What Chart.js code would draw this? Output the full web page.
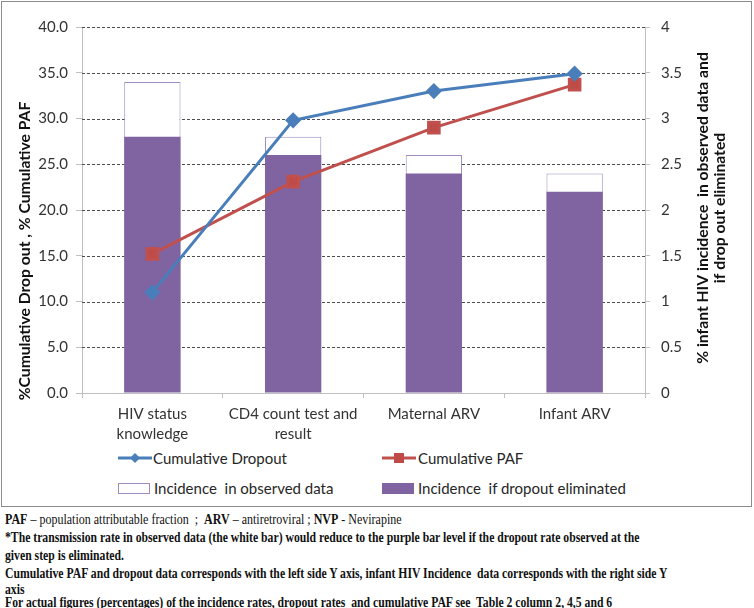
<!DOCTYPE html>
<html>
<head>
<meta charset="utf-8">
<script src="https://cdn.jsdelivr.net/npm/chart.js@4.4.1/dist/chart.umd.min.js"></script>
<style>
  html, body { margin: 0; padding: 0; background: #fff; }
  body { width: 754px; height: 608px; position: relative; overflow: hidden; font-family: Lato, "Open Sans", sans-serif; }
  #box { position: absolute; left: 1px; top: 1px; width: 749px; height: 504px; border: 1px solid #8c8c8c; }
  #c { position: absolute; left: 0; top: 0; }
  .lg { position: absolute; font-size: 15px; color: #262626; line-height: 18px; white-space: nowrap; }
  .sw { position: absolute; }
  .fn { position: absolute; left: 5px; font-family: "Liberation Serif", serif; font-size: 15px; line-height: 16px; color: #111; white-space: nowrap; transform-origin: 0 50%; transform: scaleX(0.78); }
  .fn.l1 { transform: scaleX(0.8); }
  .fn b { font-weight: bold; }
</style>
</head>
<body>
<div id="box"></div>
<canvas id="c" width="754" height="445"></canvas>

<svg class="sw" style="left:118px;top:452px" width="34" height="12"><line x1="0" y1="6" x2="34" y2="6" stroke="#4A7EBB" stroke-width="3"/><polygon points="17,1 22,6 17,11 12,6" fill="#4A7EBB"/></svg>
<div class="lg" style="left:153px;top:449px">Cumulative Dropout</div>
<svg class="sw" style="left:382px;top:452px" width="34" height="12"><line x1="0" y1="6" x2="34" y2="6" stroke="#C0504D" stroke-width="3"/><rect x="12" y="1" width="10" height="10" fill="#BE4B48"/></svg>
<div class="lg" style="left:418px;top:449px">Cumulative PAF</div>
<div class="sw" style="left:118px;top:483px;width:30px;height:9px;border:1px solid #9d8bc2;background:#fff"></div>
<div class="lg" style="left:154px;top:479px">Incidence&nbsp; in observed data</div>
<div class="sw" style="left:382px;top:483px;width:32px;height:11px;background:#8064A2"></div>
<div class="lg" style="left:418px;top:479px">Incidence&nbsp; if dropout eliminated</div>

<div class="fn l1" style="top:511px"><b>PAF</b> – population attributable fraction&nbsp; ;&nbsp; <b>ARV</b> – antiretroviral ; <b>NVP</b> - Nevirapine</div>
<div class="fn" style="top:529px"><b>*The transmission rate in observed data (the white bar) would reduce to the purple bar level if the dropout rate observed at the</b></div>
<div class="fn" style="top:547px"><b>given step is eliminated.</b></div>
<div class="fn" style="top:565px"><b>Cumulative PAF and dropout data corresponds with the left side Y axis, infant HIV Incidence&nbsp; data corresponds with the right side Y</b></div>
<div class="fn" style="top:581px"><b>axis</b></div>
<div class="fn" style="top:594px"><b>For actual figures (percentages) of the incidence rates, dropout rates&nbsp; and cumulative PAF see&nbsp; Table 2 column 2, 4,5 and 6</b></div>

<script>
// ---- data ----
const categories = [["HIV status", "knowledge"], ["CD4 count test and", "result"], ["Maternal ARV"], ["Infant ARV"]];
const cumulativeDropout = [11.0, 29.8, 33.0, 34.9];
const cumulativePAF = [15.2, 23.1, 29.0, 33.7];
const incidenceObserved = [3.4, 2.8, 2.6, 2.4];
const incidenceIfEliminated = [2.8, 2.6, 2.4, 2.2];
const leftTicks = [0, 5, 10, 15, 20, 25, 30, 35, 40];
const rightTicks = [0, 0.5, 1, 1.5, 2, 2.5, 3, 3.5, 4];
const leftTitle = "%Cumulative Drop out , % Cumulative PAF";
const rightTitle = ["% infant HIV incidence  in observed data and", "if drop out eliminated"];

const tickFont = { family: "Lato", size: 15 };

// dashed horizontal gridlines at the left-axis ticks
const dashedGrid = {
  id: 'dashedGrid',
  beforeDatasetsDraw(chart) {
    const { ctx, chartArea, scales } = chart;
    ctx.save();
    ctx.strokeStyle = '#4d4d4d';
    ctx.lineWidth = 1;
    ctx.setLineDash([3, 2]);
    leftTicks.forEach(v => {
      if (v === 0) return;
      const y = Math.round(scales.y.getPixelForValue(v)) + 0.5;
      ctx.beginPath();
      ctx.moveTo(chartArea.left, y);
      ctx.lineTo(chartArea.right, y);
      ctx.stroke();
    });
    ctx.restore();
  }
};

const titlePlugin = {
  id: 'axisTitles',
  afterDraw(chart) {
    const ctx = chart.ctx;
    ctx.save();
    ctx.fillStyle = '#111';
    ctx.font = 'bold 15.7px Lato';
    ctx.textAlign = 'center';
    ctx.textBaseline = 'middle';
    ctx.save();
    ctx.translate(25, 251);
    ctx.rotate(-Math.PI / 2);
    ctx.fillText(leftTitle, 0, 0);
    ctx.restore();
    rightTitle.forEach((line, i) => {
      ctx.save();
      ctx.translate(703 + i * 17, 208);
      ctx.rotate(-Math.PI / 2);
      ctx.fillText(line, 0, 0);
      ctx.restore();
    });
    ctx.restore();
  }
};

new Chart(document.getElementById('c'), {
  data: {
    labels: categories,
    datasets: [
      { type: 'line', label: 'Cumulative Dropout', data: cumulativeDropout, yAxisID: 'y',
        borderColor: '#4A7EBB', backgroundColor: '#4A7EBB', borderWidth: 3,
        pointStyle: 'rectRot', pointRadius: 6, pointHoverRadius: 6, order: 0, tension: 0 },
      { type: 'line', label: 'Cumulative PAF', data: cumulativePAF, yAxisID: 'y',
        borderColor: '#C0504D', backgroundColor: '#BE4B48', borderWidth: 3,
        pointStyle: 'rect', pointRadius: 7.5, pointHoverRadius: 7.5, order: 0, tension: 0 },
      { type: 'bar', label: 'Incidence  if dropout eliminated', data: incidenceIfEliminated, yAxisID: 'y1',
        backgroundColor: '#8064A2', borderWidth: 0, grouped: false, order: 1,
        barPercentage: 1, categoryPercentage: 0.4 },
      { type: 'bar', label: 'Incidence  in observed data', data: incidenceObserved, yAxisID: 'y1',
        backgroundColor: '#ffffff', borderColor: '#9d8bc2', borderWidth: 1, grouped: false, order: 2,
        barPercentage: 1, categoryPercentage: 0.4 }
    ]
  },
  options: {
    responsive: false,
    animation: false,
    devicePixelRatio: 1,
    layout: { padding: { top: 27, left: 0, right: 0, bottom: 0 } },
    plugins: { legend: { display: false }, tooltip: { enabled: false } },
    scales: {
      x: {
        type: 'category',
        offset: true,
        grid: { offset: true, drawOnChartArea: false, tickLength: 5, color: '#bfbfbf' },
        border: { color: '#bfbfbf' },
        ticks: { font: { family: 'Lato', size: 15, lineHeight: 1.33 }, color: '#333', padding: 6, maxRotation: 0, autoSkip: false },
        afterFit(s) { s.height = 52; }
      },
      y: {
        position: 'left',
        min: 0, max: 40,
        afterBuildTicks(s) { s.ticks = leftTicks.map(v => ({ value: v })); },
        ticks: { font: tickFont, color: '#333', padding: 8, callback: v => Number(v).toFixed(1) },
        grid: { drawOnChartArea: false, color: '#bfbfbf', tickLength: 6 },
        border: { color: '#bfbfbf' },
        afterFit(s) { s.width = 82; }
      },
      y1: {
        position: 'right',
        min: 0, max: 4,
        afterBuildTicks(s) { s.ticks = rightTicks.map(v => ({ value: v })); },
        ticks: { font: tickFont, color: '#333', padding: 11, callback: v => String(v) },
        grid: { drawOnChartArea: false, tickLength: 5, color: '#bfbfbf' },
        border: { color: '#bfbfbf' },
        afterFit(s) { s.width = 109; }
      }
    }
  },
  plugins: [dashedGrid, titlePlugin]
});
</script>
</body>
</html>
